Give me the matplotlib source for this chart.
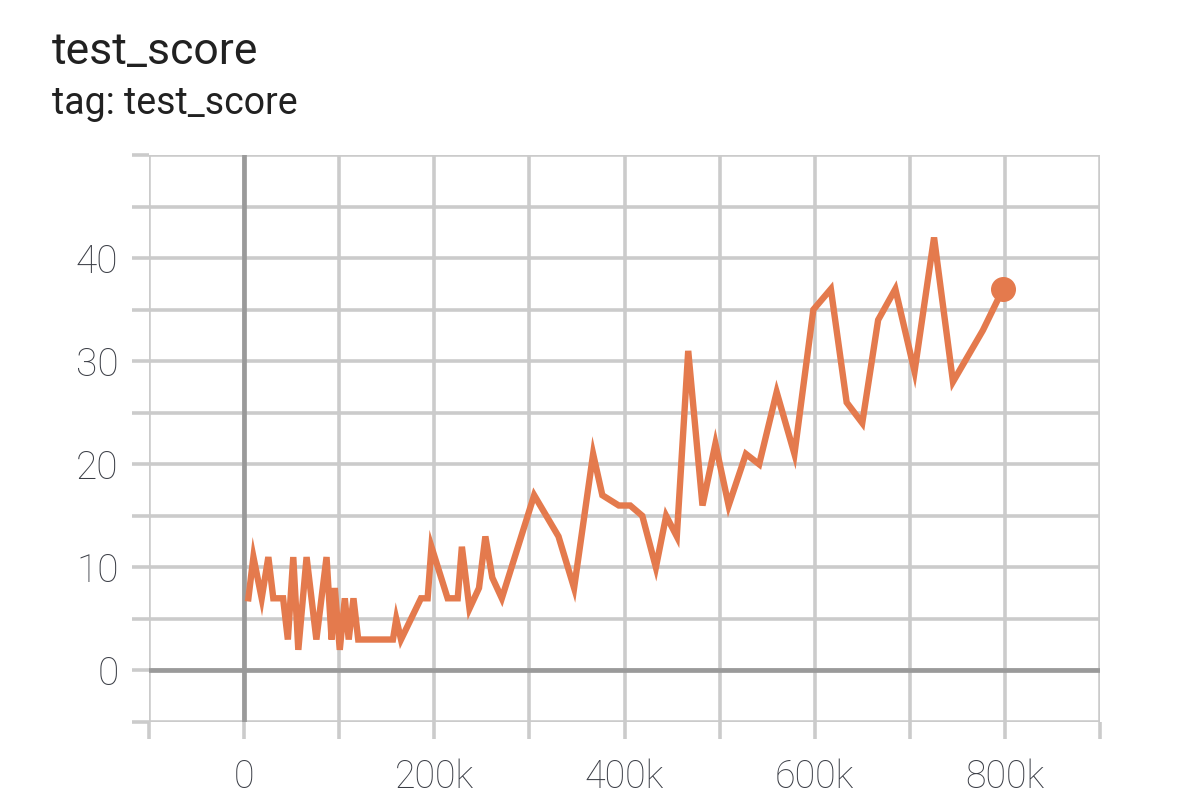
import matplotlib
matplotlib.use("Agg")
import matplotlib.pyplot as plt
from matplotlib.ticker import MultipleLocator, FixedLocator, FuncFormatter

plt.rcParams['font.family'] = ['Roboto', 'DejaVu Sans']

# test_score values
steps = [4.5e3, 9.8e3, 18.5e3, 25.5e3, 30.7e3, 41e3, 46e3, 51.7e3, 57e3, 65.7e3,
         76e3, 86.7e3, 92e3, 95.4e3, 100.6e3, 105.9e3, 110e3, 115e3, 120e3, 156.5e3,
         160e3, 165e3, 186e3, 193e3, 197e3, 214e3, 224.6e3, 229e3, 237e3, 247e3,
         253.7e3, 261e3, 271e3, 305e3, 330.6e3, 347e3, 367e3, 376.7e3, 394e3, 406e3,
         418.7e3, 433e3, 443.8e3, 455e3, 467e3, 482e3, 495.6e3, 509.5e3, 527.7e3, 541.6e3,
         560e3, 578.7e3, 598.6e3, 617e3, 633.6e3, 650e3, 666.7e3, 684.8e3, 705e3, 725.5e3,
         745.4e3, 776.9e3, 798e3]
scores = [7, 11, 7, 11, 7, 7, 3, 11, 2, 11,
          3, 11, 3, 8, 2, 7, 3, 7, 3, 3,
          5, 3, 7, 7, 12, 7, 7, 12, 6, 8,
          13, 9, 7, 17, 13, 8, 21, 17, 16, 16,
          15, 10, 15, 13, 31, 16, 22, 16, 21, 20,
          27, 21, 35, 37, 26, 24, 34, 37, 29, 42,
          28, 33, 37]

y_labels = [0, 10, 20, 30, 40]

line_color = '#e47a4d'
grid_color = '#cbcbcb'
zero_color = '#9a9a9a'

fig = plt.figure(figsize=(11.77, 8.08), dpi=100)
ax = fig.add_axes([149 / 1177, 1 - 722 / 808, 951 / 1177, 567 / 808])

ax.plot(steps, scores, color=line_color, lw=4.6, solid_joinstyle='miter', zorder=3)
ax.plot(steps[-1], scores[-1], 'o', color=line_color, ms=17, zorder=4)

ax.set_xlim(-100e3, 900e3)
ax.set_ylim(-5, 50)

ax.xaxis.set_major_locator(MultipleLocator(200e3))
ax.xaxis.set_minor_locator(MultipleLocator(100e3))
ax.yaxis.set_major_locator(FixedLocator(y_labels))
ax.yaxis.set_minor_locator(MultipleLocator(5))
ax.xaxis.set_major_formatter(FuncFormatter(lambda v, p: '0' if v == 0 else '%dk' % round(v / 1000)))

ax.grid(which='both', color=grid_color, lw=2.6, zorder=1)
ax.axhline(0, color=zero_color, lw=3.4, zorder=2)
ax.axvline(0, color=zero_color, lw=3.4, zorder=2)

for s in ax.spines.values():
    s.set_visible(False)

ax.tick_params(which='both', length=12, width=2.6, color=grid_color,
               labelcolor='#3a3d45', pad=10)
ax.tick_params(axis='y', labelsize=28)
ax.tick_params(axis='x', which='both', labelsize=27, length=12, pad=14)
for lab in ax.get_xticklabels() + ax.get_yticklabels():
    lab.set_fontweight('light')

fig.text(52 / 1177, 1 - 52 / 808, 'test_score', fontsize=32, color='#212121', va='center')
fig.text(52 / 1177, 1 - 103 / 808, 'tag: test_score', fontsize=27, color='#212121', va='center')

fig.savefig('out.png', dpi=100)
